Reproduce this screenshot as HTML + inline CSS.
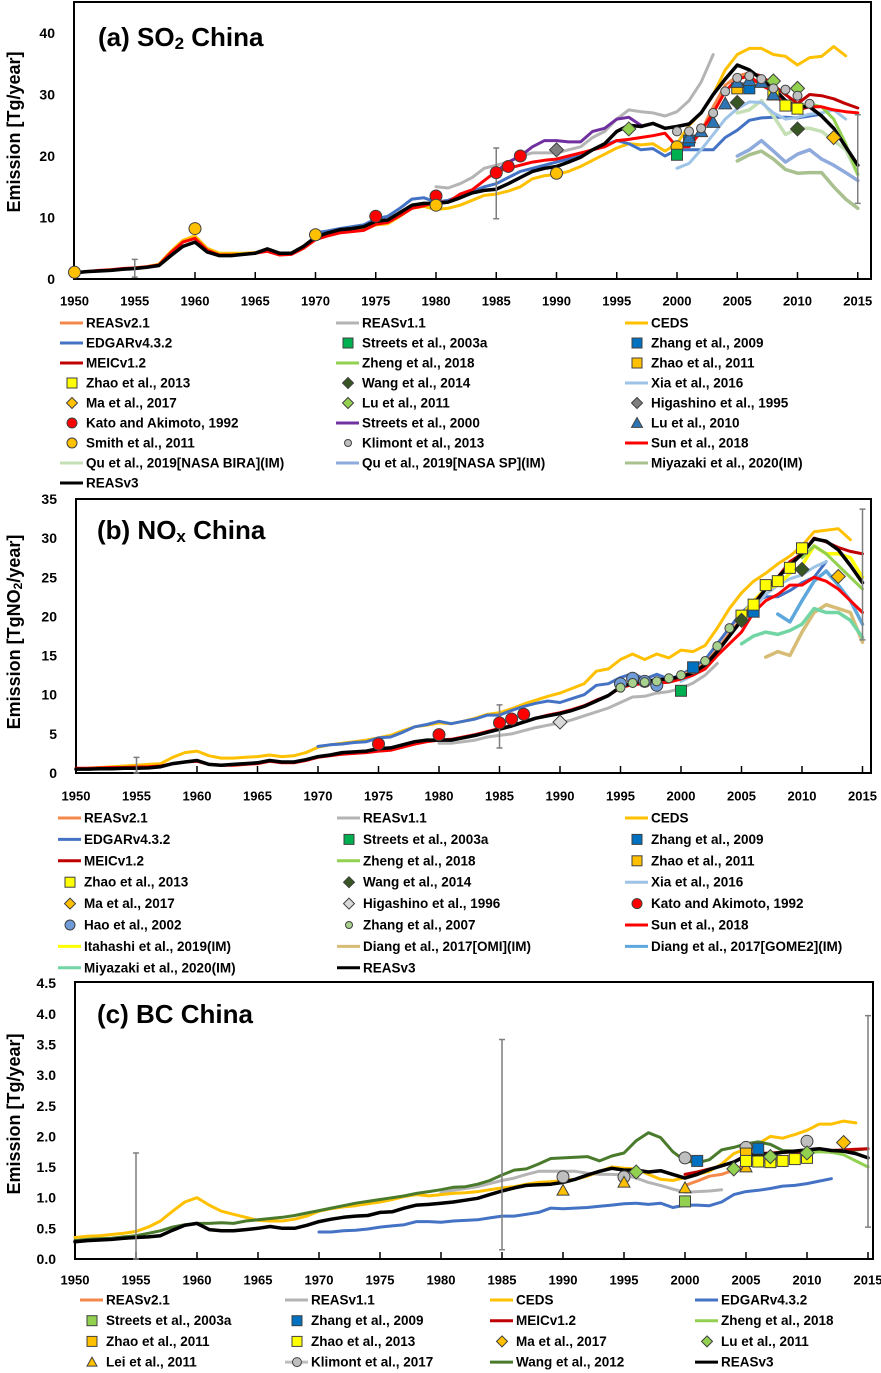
<!DOCTYPE html>
<html><head><meta charset="utf-8"><style>
html,body{margin:0;padding:0;background:#fff;}
svg{display:block;font-family:"Liberation Sans",sans-serif;font-weight:bold;}
</style></head><body>
<svg id="chart" width="881" height="1373" viewBox="0 0 881 1373" xmlns="http://www.w3.org/2000/svg"></svg>
<script>
// ---------- (a) SO2 data ----------
const so2_reasv3=[1.0,1.2,1.3,1.4,1.6,1.7,1.9,2.2,3.8,5.3,6.0,4.4,3.8,3.8,4.0,4.2,4.9,4.2,4.2,5.3,6.8,7.5,8.0,8.2,8.5,9.4,9.6,10.8,12.0,12.3,12.3,12.5,13.2,14.0,14.4,14.6,15.5,16.5,17.5,18.0,18.3,19.0,19.8,21.0,22.0,24.0,25.0,24.8,25.3,24.5,24.8,25.2,27.0,30.0,32.5,34.8,34.0,32.5,31.0,29.0,28.0,28.0,26.5,24.5,21.5,18.5];
const so2_ceds=[1.0,1.2,1.3,1.5,1.6,1.8,2.0,2.4,4.5,6.3,7.0,5.0,4.2,4.2,4.2,4.3,4.6,4.0,4.1,5.0,6.5,7.2,7.6,7.8,8.0,8.8,9.0,10.2,11.5,11.8,11.3,11.5,12.0,12.8,13.6,13.8,14.3,15.0,16.3,16.8,17.0,17.5,18.3,19.3,20.3,21.3,22.0,21.8,22.0,20.8,22.0,25.0,27.0,30.0,34.0,36.5,37.5,37.5,36.5,36.2,34.8,36.0,36.2,37.8,36.3];
const so2_sun=[1.0,1.2,1.4,1.5,1.7,1.8,2.0,2.3,4.3,6.0,6.6,4.7,3.9,3.9,4.0,4.2,4.5,3.9,4.0,5.0,6.4,7.0,7.5,7.7,7.9,8.9,9.2,10.3,11.5,11.9,12.5,12.5,13.8,14.5,16.0,17.5,18.0,18.5,19.0,19.3,19.5,20.0,20.5,21.0,21.5,22.5,22.7,23.0,23.3,23.7,21.5,21.5,24.0,27.0,30.5,32.5,33.0,31.5,30.5,28.0,27.5,28.0,28.0,27.5,27.2,27.0];
const so2_edgar=[7.5,7.8,8.2,8.5,8.8,9.8,10.2,11.5,13.0,13.2,12.5,12.8,13.5,14.2,15.0,15.5,16.5,17.5,18.0,18.5,19.0,19.5,20.0,21.0,21.8,22.5,22.0,21.0,21.2,20.0,21.0,21.0,21.0,21.0,23.0,24.2,25.8,26.2,26.3,26.3,26.2,26.5,26.8];
const so2_reas21=[21.5,22.5,24.0,28.0,31.5,33.0,33.5,33.0,31.5];
const so2_reas11=[15.0,14.8,15.5,16.5,18.0,18.5,19.0,20.0,20.5,20.5,20.5,21.0,21.5,23.0,24.0,26.0,27.5,27.2,27.0,26.5,27.2,29.0,32.0,36.5];
const so2_streets2000=[17.5,19.0,20.0,21.5,22.5,22.5,22.3,22.3,24.0,24.5,26.0,26.3,25.0];
const so2_meic=[33.5,33.0,31.5,30.0,28.5,30.0,29.8,29.3,28.5,27.8];
const so2_zheng=[28.0,28.5,28.0,26.0,22.0,17.0];
const so2_xia=[18.0,18.8,21.0,23.5,26.0,27.7,28.8,28.7,27.0,26.0,26.3,26.8,27.0,27.5,26.0];
const so2_qubira=[27.0,27.5,29.0,26.5,23.5,24.5,24.5,24.0,22.5,21.0,17.0];
const so2_qusp=[20.0,21.0,22.5,20.8,19.0,20.3,21.0,19.5,18.5,17.3,16.0];
const so2_miyazaki=[19.2,20.2,20.8,19.5,17.8,17.2,17.3,17.3,15.0,13.0,11.5];
const so2_kato_yr=[1975,1980,1985,1986,1987], so2_kato_v=[10.2,13.5,17.3,18.3,20.0];
const so2_smith_yr=[1950,1960,1970,1980,1990,2000], so2_smith_v=[1.1,8.2,7.2,12.0,17.2,21.5];
const so2_higa_yr=[1990], so2_higa_v=[21.0];
const so2_lu11_yr=[1996,2008,2010], so2_lu11_v=[24.4,32.2,31.0];
const so2_streets03_yr=[2000], so2_streets03_v=[20.2];
const so2_zhang09_yr=[2001,2006], so2_zhang09_v=[22.5,31.0];
const so2_zhao11_yr=[2005], so2_zhao11_v=[31.0];
const so2_zhao13_yr=[2008,2009,2010], so2_zhao13_v=[30.0,28.2,27.7];
const so2_wang14_yr=[2005,2010], so2_wang14_v=[28.7,24.4];
const so2_ma_yr=[2013], so2_ma_v=[23.0];
const so2_lu10_yr=[2001,2002,2003,2004,2005,2006,2007,2008], so2_lu10_v=[23.0,24.0,25.5,28.5,32.0,32.3,32.0,30.0];
const so2_klim_yr=[2000,2001,2002,2003,2004,2005,2006,2007,2008,2009,2010,2011], so2_klim_v=[24.0,24.0,24.5,27.0,30.5,32.7,33.0,32.5,31.0,30.8,29.8,28.5];
const so2_err_yr=[1955,1985,2015], so2_err_lo=[0.3,9.8,12.3], so2_err_hi=[3.2,21.3,26.7];
const so2_ticks=[0,10,20,30,40];

// ---------- (b) NOx data ----------
const nox_reasv3=[0.5,0.5,0.55,0.55,0.6,0.6,0.65,0.8,1.2,1.4,1.6,1.1,1.0,1.1,1.2,1.3,1.6,1.4,1.4,1.7,2.1,2.3,2.6,2.7,2.8,3.1,3.2,3.6,4.0,4.2,4.2,4.2,4.5,4.8,5.2,5.6,6.0,6.5,7.0,7.3,7.6,8.0,8.5,9.2,9.9,11.0,11.5,11.7,11.9,12.0,12.3,12.8,13.8,15.5,17.5,19.5,21.5,23.5,25.0,26.5,28.0,29.9,29.6,28.5,26.5,24.3];
const nox_ceds=[0.5,0.6,0.7,0.8,0.9,1.0,1.1,1.2,2.0,2.6,2.8,2.2,1.9,1.9,2.0,2.1,2.3,2.1,2.2,2.6,3.3,3.6,3.8,4.0,4.2,4.5,4.8,5.4,5.9,6.1,6.4,6.3,6.6,7.0,7.5,7.7,8.2,8.8,9.3,9.8,10.2,10.8,11.4,13.0,13.3,14.5,15.2,14.5,15.2,14.7,15.7,15.5,16.3,18.5,21.0,23.0,24.5,25.5,26.7,27.7,29.0,30.8,31.0,31.2,29.8];
const nox_sun=[0.6,0.6,0.65,0.7,0.7,0.75,0.8,0.9,1.2,1.4,1.5,1.1,1.0,1.0,1.1,1.2,1.5,1.3,1.3,1.6,2.0,2.2,2.4,2.5,2.6,2.8,2.9,3.3,3.7,4.0,4.2,4.3,4.6,4.9,5.3,5.7,6.1,6.5,7.0,7.4,7.7,8.1,8.6,9.3,9.9,10.9,11.3,11.4,11.5,11.6,12.0,12.5,13.3,15.0,16.5,18.0,20.5,22.0,22.8,24.0,24.0,25.0,24.5,23.5,22.0,20.5];
const nox_edgar=[3.4,3.6,3.7,3.9,4.0,4.5,4.6,5.2,5.9,6.2,6.6,6.3,6.6,6.9,7.4,7.4,8.0,8.5,8.9,9.2,9.0,9.5,10.0,11.2,11.4,12.2,12.7,12.0,12.6,12.0,12.5,13.5,14.5,16.5,18.5,20.5,21.8,22.5,22.5,23.3,24.3,25.0,27.0];
const nox_reas11=[3.8,3.8,4.0,4.2,4.6,4.8,5.0,5.4,5.8,6.1,6.4,6.8,7.3,7.8,8.3,9.0,9.7,9.8,10.2,10.4,10.8,11.5,12.5,14.0];
const nox_reas21=[12.5,13.0,14.0,15.8,17.8,19.8,21.8,23.5,25.0];
const nox_meic=[25.0,27.0,28.0,30.0,29.5,28.8,28.3,28.0];
const nox_zheng=[27.5,29.0,28.0,26.5,25.0,23.5];
const nox_xia=[11.7,12.5,14.0,15.5,17.5,19.5,21.0,22.8,24.0,24.8,25.3,26.3,27.0];
const nox_gome2=[20.3,19.3,22.0,24.5,25.8,24.0,22.0,19.0];
const nox_itahashi=[20.0,22.0,23.5,24.0,25.5,26.5,29.0,28.0,28.0,27.5,25.0];
const nox_omi=[14.8,15.5,15.0,18.0,20.5,21.5,21.0,20.5,16.7];
const nox_miyazaki=[16.5,17.5,18.0,17.7,18.2,19.0,21.0,20.5,20.5,19.5,17.3];
const nox_kato_yr=[1975,1980,1985,1986,1987], nox_kato_v=[3.7,4.9,6.4,6.9,7.5];
const nox_higa_yr=[1990], nox_higa_v=[6.5];
const nox_streets03_yr=[2000], nox_streets03_v=[10.5];
const nox_hao_yr=[1995,1996,1997,1998], nox_hao_v=[11.4,12.1,11.7,11.2];
const nox_zhang07_yr=[1995,1996,1997,1998,1999,2000,2001,2002,2003,2004], nox_zhang07_v=[10.9,11.5,11.6,11.7,12.1,12.5,13.2,14.3,16.2,18.5];
const nox_zhang09_yr=[2001,2006], nox_zhang09_v=[13.5,20.6];
const nox_zhao13_yr=[2005,2006,2007,2008,2009,2010], nox_zhao13_v=[20.1,21.5,24.0,24.5,26.2,28.7];
const nox_wang14_yr=[2005,2010], nox_wang14_v=[19.5,26.0];
const nox_ma_yr=[2013], nox_ma_v=[25.1];
const nox_err_yr=[1955,1985,2015], nox_err_lo=[0.0,3.2,17.0], nox_err_hi=[2.0,8.7,33.7];
const nox_ticks=[0,5,10,15,20,25,30,35];

// ---------- (c) BC data ----------
const bc_reasv3=[0.28,0.30,0.31,0.32,0.34,0.35,0.36,0.38,0.47,0.55,0.58,0.48,0.46,0.46,0.48,0.50,0.53,0.50,0.50,0.55,0.61,0.65,0.68,0.70,0.71,0.76,0.77,0.83,0.88,0.89,0.91,0.93,0.96,0.99,1.05,1.11,1.16,1.20,1.21,1.22,1.25,1.30,1.37,1.43,1.48,1.45,1.45,1.42,1.44,1.38,1.32,1.38,1.46,1.52,1.58,1.68,1.72,1.71,1.74,1.76,1.78,1.80,1.77,1.76,1.72,1.65];
const bc_ceds=[0.35,0.37,0.38,0.40,0.42,0.45,0.52,0.62,0.78,0.93,1.00,0.88,0.78,0.73,0.68,0.63,0.62,0.62,0.65,0.70,0.78,0.82,0.85,0.87,0.90,0.93,0.97,1.02,1.05,1.03,1.05,1.07,1.08,1.10,1.13,1.16,1.18,1.22,1.25,1.26,1.28,1.30,1.35,1.43,1.50,1.48,1.47,1.38,1.30,1.28,1.33,1.38,1.43,1.55,1.72,1.80,1.88,2.00,1.97,2.03,2.10,2.20,2.20,2.25,2.22];
const bc_wang=[0.30,0.32,0.33,0.34,0.36,0.38,0.42,0.46,0.52,0.56,0.58,0.58,0.59,0.58,0.62,0.64,0.66,0.68,0.71,0.75,0.79,0.83,0.87,0.91,0.94,0.97,1.00,1.03,1.07,1.10,1.13,1.17,1.18,1.22,1.28,1.37,1.45,1.47,1.55,1.64,1.65,1.66,1.67,1.60,1.68,1.73,1.93,2.06,1.98,1.75,1.60,1.57,1.62,1.78,1.82,1.88,1.91,1.87,1.77,1.76,1.76,1.76,1.74,1.75,1.78,1.80];
const bc_edgar=[0.44,0.44,0.46,0.47,0.49,0.52,0.54,0.56,0.61,0.61,0.60,0.62,0.63,0.64,0.67,0.70,0.70,0.73,0.76,0.83,0.82,0.83,0.84,0.86,0.88,0.90,0.91,0.89,0.91,0.84,0.88,0.88,0.87,0.93,1.05,1.10,1.12,1.15,1.19,1.20,1.23,1.27,1.31];
const bc_reas11=[1.08,1.12,1.15,1.18,1.23,1.28,1.32,1.38,1.43,1.43,1.43,1.43,1.40,1.38,1.38,1.37,1.32,1.25,1.20,1.14,1.09,1.10,1.11,1.13];
const bc_reas21=[1.20,1.27,1.35,1.38,1.45,1.55,1.58,1.60,1.62];
const bc_meic=[1.38,1.42,1.47,1.52,1.58,1.70,1.72,1.73,1.74,1.74,1.75,1.76,1.77,1.78,1.79,1.80];
const bc_zheng=[1.73,1.75,1.74,1.70,1.60,1.50];
const bc_streets03_yr=[2000], bc_streets03_v=[0.94];
const bc_zhang09_yr=[2001,2006], bc_zhang09_v=[1.60,1.80];
const bc_zhao11_yr=[2005], bc_zhao11_v=[1.72];
const bc_zhao13_yr=[2005,2006,2007,2008,2009,2010], bc_zhao13_v=[1.60,1.59,1.58,1.60,1.63,1.65];
const bc_ma_yr=[2013], bc_ma_v=[1.90];
const bc_lu11_yr=[1996,2004,2007,2010], bc_lu11_v=[1.42,1.47,1.67,1.73];
const bc_lei_yr=[1990,1995,2000,2005], bc_lei_v=[1.12,1.25,1.16,1.50];
const bc_klim_yr=[1990,1995,2000,2005,2010], bc_klim_v=[1.34,1.34,1.65,1.82,1.92];
const bc_err_yr=[1955,1985,2015], bc_err_lo=[0.0,0.15,0.52], bc_err_hi=[1.73,3.58,3.97];
const bc_ticks=[0,0.5,1,1.5,2,2.5,3,3.5,4,4.5];
const xTickYears=[1950,1955,1960,1965,1970,1975,1980,1985,1990,1995,2000,2005,2010,2015];

// ---------- drawing ----------
const NS="http://www.w3.org/2000/svg";
const svg=document.getElementById('chart');
function el(tag,attrs,parent){const e=document.createElementNS(NS,tag);for(const k in attrs)e.setAttribute(k,attrs[k]);(parent||svg).appendChild(e);return e;}

const C={orange:"#f4894b",gray:"#b4b4b4",ceds:"#ffc000",edgar:"#4472c4",meic:"#c00000",sun:"#ff0000",zheng:"#92d050",xia:"#9dc3e6",purple:"#7030a0",qubira:"#c5e0b4",qusp:"#8faadc",miyA:"#a9c08f",miyB:"#72d6a4",ita:"#ffff00",omi:"#d6bc74",gome:"#5ea7dc",wang12:"#4a7a2c",black:"#000"};

function makeScale(p){
  return {x:y=>p.x0+(y-1950)*p.xs, y:v=>p.y0-v*p.ys};
}
function drawLine(g,sc,start,vals,color,w,name){
  const pts=vals.map((v,i)=>sc.x(start+i).toFixed(1)+","+sc.y(v).toFixed(1)).join(" ");
  const pl=el('polyline',{points:pts,fill:'none',stroke:color,'stroke-width':w,'stroke-linejoin':'round','stroke-linecap':'round'},g);
  
  
}
function marker(g,cx,cy,type,fill,size){
  let e;const s=size;
  if(type==='sq') e=el('rect',{x:cx-s,y:cy-s,width:2*s,height:2*s,fill:fill,stroke:'#404040','stroke-width':1},g);
  else if(type==='ci') e=el('circle',{cx:cx,cy:cy,r:s,fill:fill,stroke:'#404040','stroke-width':1},g);
  else if(type==='di') e=el('polygon',{points:`${cx},${cy-s} ${cx+s},${cy} ${cx},${cy+s} ${cx-s},${cy}`,fill:fill,stroke:'#404040','stroke-width':1},g);
  else e=el('polygon',{points:`${cx},${cy-s} ${cx+s},${cy+s*0.8} ${cx-s},${cy+s*0.8}`,fill:fill,stroke:'#404040','stroke-width':1},g);
  return e;
}
function drawMarkers(g,sc,yrs,vals,type,fill,size,name){
  yrs.forEach((yr,i)=>{
    const m=marker(g,sc.x(yr),sc.y(vals[i]),type,fill,size);
    
    
  });
}
function drawErr(g,sc,yrs,lo,hi){
  yrs.forEach((yr,i)=>{
    const x=sc.x(yr),y1=sc.y(lo[i]),y2=sc.y(hi[i]);
    const l=el('path',{d:`M${x},${y1}V${y2}M${x-3},${y1}H${x+3}M${x-3},${y2}H${x+3}`,stroke:'#7f7f7f','stroke-width':1.5,fill:'none'},g);
    
    
  });
}
function text(x,y,str,size,anchor,parent,name){
  const t=el('text',{x:x,y:y,'font-size':size,'text-anchor':anchor||'start','dominant-baseline':'central',fill:'#000'},parent);
  t.textContent=str;
  
  
  return t;
}
function axes(g,p,ticks,dec,xlabY){
  const f=el('rect',{x:p.fx0,y:p.fy0,width:p.fx1-p.fx0,height:p.fy1-p.fy0,fill:'none',stroke:'#000','stroke-width':2},g);
  
  
  const sc=makeScale(p);
  ticks.forEach(v=>{text(p.fx0-19,sc.y(v),v.toFixed(dec),14,'end',g,'y-tick-label');});
  xTickYears.forEach(yr=>{
    const x=sc.x(yr);
    el('line',{x1:x,x2:x,y1:p.fy1,y2:p.fy1-7,stroke:'#000','stroke-width':1.5},g);
    text(x,xlabY,String(yr),13,'middle',g,'x-tick-label');
  });
  return sc;
}
function legendItem(g,x,y,kind,color,label,mtype,msize){
  const it=el('g',{},g);
  
  
  if(kind==='line'){el('line',{x1:x,x2:x+23,y1:y,y2:y,stroke:color,'stroke-width':3},it);}
  else if(kind==='lm'){el('line',{x1:x,x2:x+23,y1:y,y2:y,stroke:'#bfbfbf','stroke-width':3},it);marker(it,x+12,y,mtype,color,msize);}
  else marker(it,x+12,y,mtype,color,msize);
  text(x+26,y,label,13.5,'start',it,'legend-label');
}

// ===== Panel A =====
const pA={x0:74.5,xs:12.05,y0:279,ys:6.15,fx0:74,fy0:2,fx1:871,fy1:279};
const gA=el('g',{});
const sA=axes(gA,pA,so2_ticks,0,301);
drawLine(gA,sA,1980,so2_reas11,C.gray,3,'line-reasv11');
drawLine(gA,sA,1985,so2_streets2000,C.purple,3,'line-streets2000');
drawLine(gA,sA,1950,so2_ceds,C.ceds,3,'line-ceds');
drawLine(gA,sA,1970,so2_edgar,C.edgar,3,'line-edgar');
drawLine(gA,sA,2005,so2_miyazaki,C.miyA,3.5,'line-miyazaki');
drawLine(gA,sA,2005,so2_qusp,C.qusp,3.5,'line-qu-sp');
drawLine(gA,sA,2005,so2_qubira,C.qubira,3.5,'line-qu-bira');
drawLine(gA,sA,2000,so2_xia,C.xia,3,'line-xia');
drawLine(gA,sA,2010,so2_zheng,C.zheng,3,'line-zheng');
drawLine(gA,sA,2000,so2_reas21,C.orange,3,'line-reasv21');
drawLine(gA,sA,1950,so2_sun,C.sun,3,'line-sun');
drawLine(gA,sA,2006,so2_meic,C.meic,3,'line-meic');
drawLine(gA,sA,1950,so2_reasv3,C.black,3.5,'line-reasv3');
drawErr(gA,sA,so2_err_yr,so2_err_lo,so2_err_hi);
drawMarkers(gA,sA,so2_kato_yr,so2_kato_v,'ci','#ff0000',6,'marker-kato');
drawMarkers(gA,sA,so2_smith_yr,so2_smith_v,'ci','#ffc000',6,'marker-smith');
drawMarkers(gA,sA,so2_higa_yr,so2_higa_v,'di','#808080',7,'marker-higashino');
drawMarkers(gA,sA,so2_streets03_yr,so2_streets03_v,'sq','#00b050',5.5,'marker-streets2003a');
drawMarkers(gA,sA,so2_zhao11_yr,so2_zhao11_v,'sq','#ffc000',5.5,'marker-zhao2011');
drawMarkers(gA,sA,so2_zhang09_yr,so2_zhang09_v,'sq','#0070c0',5.5,'marker-zhang2009');
drawMarkers(gA,sA,so2_zhao13_yr,so2_zhao13_v,'sq','#ffff00',5.5,'marker-zhao2013');
drawMarkers(gA,sA,so2_lu10_yr,so2_lu10_v,'tr','#2e75b6',6.5,'marker-lu2010');
drawMarkers(gA,sA,so2_wang14_yr,so2_wang14_v,'di','#375623',7,'marker-wang2014');
drawMarkers(gA,sA,so2_lu11_yr,so2_lu11_v,'di','#92d050',7,'marker-lu2011');
drawMarkers(gA,sA,so2_ma_yr,so2_ma_v,'di','#ffc000',7,'marker-ma2017');
drawMarkers(gA,sA,so2_klim_yr,so2_klim_v,'ci','#bfbfbf',4.5,'marker-klimont2013');
const tA=el('text',{x:98,y:37,'font-size':26,'dominant-baseline':'central'},gA);
tA.innerHTML='(a) SO<tspan font-size="17" dy="6">2</tspan><tspan dy="-6"> China</tspan>';

const yA=el('text',{x:0,y:0,'font-size':18,'text-anchor':'middle','dominant-baseline':'central',transform:'translate(14,132) rotate(-90)'},gA);
yA.textContent='Emission [Tg/year]';

// legend A
const lgA=el('g',{},gA);
const cA=[60,336,625], rA=i=>323+20*i;
[
 [0,0,'line',C.orange,'REASv2.1'],[1,0,'line',C.gray,'REASv1.1'],[2,0,'line',C.ceds,'CEDS'],
 [0,1,'line',C.edgar,'EDGARv4.3.2'],[1,1,'m','#00b050','Streets et al., 2003a','sq',5],[2,1,'m','#0070c0','Zhang et al., 2009','sq',5],
 [0,2,'line',C.meic,'MEICv1.2'],[1,2,'line',C.zheng,'Zheng et al., 2018'],[2,2,'m','#ffc000','Zhao et al., 2011','sq',5],
 [0,3,'m','#ffff00','Zhao et al., 2013','sq',5],[1,3,'m','#375623','Wang et al., 2014','di',5.5],[2,3,'line',C.xia,'Xia et al., 2016'],
 [0,4,'m','#ffc000','Ma et al., 2017','di',5.5],[1,4,'m','#92d050','Lu et al., 2011','di',5.5],[2,4,'m','#808080','Higashino et al., 1995','di',5.5],
 [0,5,'m','#ff0000','Kato and Akimoto, 1992','ci',5],[1,5,'line',C.purple,'Streets et al., 2000'],[2,5,'m','#2e75b6','Lu et al., 2010','tr',5.5],
 [0,6,'m','#ffc000','Smith et al., 2011','ci',5],[1,6,'m','#bfbfbf','Klimont et al., 2013','ci',3.5],[2,6,'line',C.sun,'Sun et al., 2018'],
 [0,7,'line',C.qubira,'Qu et al., 2019[NASA BIRA](IM)'],[1,7,'line',C.qusp,'Qu et al., 2019[NASA SP](IM)'],[2,7,'line',C.miyA,'Miyazaki et al., 2020(IM)'],
 [0,8,'line',C.black,'REASv3']
].forEach(d=>legendItem(lgA,cA[d[0]],rA(d[1]),d[2],d[3],d[4],d[5],d[6]));

// ===== Panel B =====
const pB={x0:76,xs:12.1,y0:773,ys:7.83,fx0:76,fy0:499,fx1:871,fy1:773};
const gB=el('g',{});
const sB=axes(gB,pB,nox_ticks,0,796);
drawLine(gB,sB,1980,nox_reas11,C.gray,3,'line-reasv11');
drawLine(gB,sB,1950,nox_ceds,C.ceds,3,'line-ceds');
drawLine(gB,sB,1970,nox_edgar,C.edgar,3,'line-edgar');
drawLine(gB,sB,2007,nox_omi,C.omi,3.5,'line-diang-omi');
drawLine(gB,sB,2005,nox_miyazaki,C.miyB,3.5,'line-miyazaki');
drawLine(gB,sB,2000,nox_xia,C.xia,3,'line-xia');
drawLine(gB,sB,2008,nox_gome2,C.gome,3.5,'line-diang-gome2');
drawLine(gB,sB,2005,nox_itahashi,C.ita,3.5,'line-itahashi');
drawLine(gB,sB,2010,nox_zheng,C.zheng,3,'line-zheng');
drawLine(gB,sB,2000,nox_reas21,C.orange,3,'line-reasv21');
drawLine(gB,sB,1950,nox_sun,C.sun,3,'line-sun');
drawLine(gB,sB,2008,nox_meic,C.meic,3,'line-meic');
drawLine(gB,sB,1950,nox_reasv3,C.black,3.5,'line-reasv3');
drawErr(gB,sB,nox_err_yr,nox_err_lo,nox_err_hi);
drawMarkers(gB,sB,nox_kato_yr,nox_kato_v,'ci','#ff0000',6,'marker-kato');
drawMarkers(gB,sB,nox_higa_yr,nox_higa_v,'di','#d9d9d9',7,'marker-higashino');
drawMarkers(gB,sB,nox_streets03_yr,nox_streets03_v,'sq','#00b050',5.5,'marker-streets2003a');
drawMarkers(gB,sB,nox_hao_yr,nox_hao_v,'ci','#6f9bd8',6,'marker-hao');
drawMarkers(gB,sB,nox_zhang07_yr,nox_zhang07_v,'ci','#a9d18e',4.5,'marker-zhang2007');
drawMarkers(gB,sB,nox_zhang09_yr,nox_zhang09_v,'sq','#0070c0',5.5,'marker-zhang2009');
drawMarkers(gB,sB,nox_zhao13_yr,nox_zhao13_v,'sq','#ffff00',5.5,'marker-zhao2013');
drawMarkers(gB,sB,nox_wang14_yr,nox_wang14_v,'di','#375623',7,'marker-wang2014');
drawMarkers(gB,sB,nox_ma_yr,nox_ma_v,'di','#ffc000',7,'marker-ma2017');
const tB=el('text',{x:97,y:530,'font-size':26,'dominant-baseline':'central'},gB);
tB.innerHTML='(b) NO<tspan font-size="17" dy="6">x</tspan><tspan dy="-6"> China</tspan>';

const yB=el('text',{x:0,y:0,'font-size':18,'text-anchor':'middle','dominant-baseline':'central',transform:'translate(14,632) rotate(-90)'},gB);
yB.innerHTML='Emission [TgNO<tspan font-size="12" dy="4">2</tspan><tspan dy="-4">/year]</tspan>';

const lgB=el('g',{},gB);
const cB=[58,337,625], rB=i=>818+21.4*i;
[
 [0,0,'line',C.orange,'REASv2.1'],[1,0,'line',C.gray,'REASv1.1'],[2,0,'line',C.ceds,'CEDS'],
 [0,1,'line',C.edgar,'EDGARv4.3.2'],[1,1,'m','#00b050','Streets et al., 2003a','sq',5],[2,1,'m','#0070c0','Zhang et al., 2009','sq',5],
 [0,2,'line',C.meic,'MEICv1.2'],[1,2,'line',C.zheng,'Zheng et al., 2018'],[2,2,'m','#ffc000','Zhao et al., 2011','sq',5],
 [0,3,'m','#ffff00','Zhao et al., 2013','sq',5],[1,3,'m','#375623','Wang et al., 2014','di',5.5],[2,3,'line',C.xia,'Xia et al., 2016'],
 [0,4,'m','#ffc000','Ma et al., 2017','di',5.5],[1,4,'m','#d9d9d9','Higashino et al., 1996','di',5.5],[2,4,'m','#ff0000','Kato and Akimoto, 1992','ci',5],
 [0,5,'m','#6f9bd8','Hao et al., 2002','ci',5],[1,5,'m','#a9d18e','Zhang et al., 2007','ci',3.5],[2,5,'line',C.sun,'Sun et al., 2018'],
 [0,6,'line',C.ita,'Itahashi et al., 2019(IM)'],[1,6,'line',C.omi,'Diang et al., 2017[OMI](IM)'],[2,6,'line',C.gome,'Diang et al., 2017[GOME2](IM)'],
 [0,7,'line',C.miyB,'Miyazaki et al., 2020(IM)'],[1,7,'line',C.black,'REASv3']
].forEach(d=>legendItem(lgB,cB[d[0]],rB(d[1]),d[2],d[3],d[4],d[5],d[6]));

// ===== Panel C =====
const pC={x0:75,xs:12.2,y0:1259,ys:61.3,fx0:75,fy0:982,fx1:873,fy1:1259};
const gC=el('g',{});
const sC=axes(gC,pC,bc_ticks,1,1280);
drawLine(gC,sC,1970,bc_edgar,C.edgar,3,'line-edgar');
drawLine(gC,sC,1980,bc_reas11,C.gray,3,'line-reasv11');
drawLine(gC,sC,1950,bc_ceds,C.ceds,3,'line-ceds');
drawLine(gC,sC,1950,bc_wang,C.wang12,3,'line-wang2012');
drawLine(gC,sC,2000,bc_reas21,C.orange,3,'line-reasv21');
drawLine(gC,sC,2000,bc_meic,C.meic,3,'line-meic');
drawLine(gC,sC,2010,bc_zheng,C.zheng,3,'line-zheng');
drawLine(gC,sC,1950,bc_reasv3,C.black,3.5,'line-reasv3');
drawErr(gC,sC,bc_err_yr,bc_err_lo,bc_err_hi);
drawMarkers(gC,sC,bc_klim_yr,bc_klim_v,'ci','#bfbfbf',6,'marker-klimont2017');
drawMarkers(gC,sC,bc_lei_yr,bc_lei_v,'tr','#ffc000',6,'marker-lei2011');
drawMarkers(gC,sC,bc_streets03_yr,bc_streets03_v,'sq','#92d050',5.5,'marker-streets2003a');
drawMarkers(gC,sC,bc_zhang09_yr,bc_zhang09_v,'sq','#0070c0',5.5,'marker-zhang2009');
drawMarkers(gC,sC,bc_zhao11_yr,bc_zhao11_v,'sq','#ffc000',5.5,'marker-zhao2011');
drawMarkers(gC,sC,bc_zhao13_yr,bc_zhao13_v,'sq','#ffff00',5.5,'marker-zhao2013');
drawMarkers(gC,sC,bc_lu11_yr,bc_lu11_v,'di','#92d050',7,'marker-lu2011');
drawMarkers(gC,sC,bc_ma_yr,bc_ma_v,'di','#ffc000',7,'marker-ma2017');
const tC=text(97,1014,'(c) BC China',26,'start',gC,'panel-c-title');
const yC=el('text',{x:0,y:0,'font-size':18,'text-anchor':'middle','dominant-baseline':'central',transform:'translate(14,1114) rotate(-90)'},gC);
yC.textContent='Emission [Tg/year]';

const lgC=el('g',{},gC);
const cC=[80,285,490,695], rC=i=>1300+20.7*i;
[
 [0,0,'line',C.orange,'REASv2.1'],[1,0,'line',C.gray,'REASv1.1'],[2,0,'line',C.ceds,'CEDS'],[3,0,'line',C.edgar,'EDGARv4.3.2'],
 [0,1,'m','#92d050','Streets et al., 2003a','sq',5],[1,1,'m','#0070c0','Zhang et al., 2009','sq',5],[2,1,'line',C.meic,'MEICv1.2'],[3,1,'line',C.zheng,'Zheng et al., 2018'],
 [0,2,'m','#ffc000','Zhao et al., 2011','sq',5],[1,2,'m','#ffff00','Zhao et al., 2013','sq',5],[2,2,'m','#ffc000','Ma et al., 2017','di',5.5],[3,2,'m','#92d050','Lu et al., 2011','di',5.5],
 [0,3,'m','#ffc000','Lei et al., 2011','tr',5],[1,3,'lm','#bfbfbf','Klimont et al., 2017','ci',4.5],[2,3,'line',C.wang12,'Wang et al., 2012'],[3,3,'line',C.black,'REASv3']
].forEach(d=>legendItem(lgC,cC[d[0]],rC(d[1]),d[2],d[3],d[4],d[5],d[6]));
</script>
</body></html>
